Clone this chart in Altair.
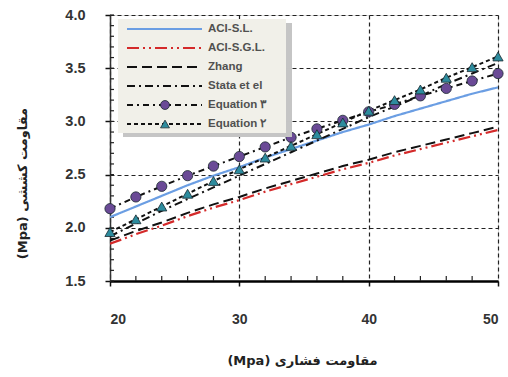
import altair as alt
import pandas as pd

# Compressive strength (MPa) at which every series is evaluated
fc = [20, 22, 24, 26, 28, 30, 32, 34, 36, 38, 40, 42, 44, 46, 48, 50]

# Tensile strength (MPa) for each model
aci_sl = [2.10, 2.20, 2.30, 2.40, 2.49, 2.57, 2.66, 2.74, 2.82, 2.90, 2.97, 3.05, 3.12, 3.19, 3.26, 3.32]
aci_sgl = [1.85, 1.94, 2.02, 2.11, 2.19, 2.26, 2.34, 2.41, 2.48, 2.55, 2.61, 2.68, 2.74, 2.80, 2.86, 2.92]
zhang = [1.88, 1.97, 2.05, 2.14, 2.22, 2.29, 2.37, 2.44, 2.51, 2.58, 2.64, 2.71, 2.77, 2.83, 2.89, 2.95]
stata = [1.92, 2.04, 2.16, 2.27, 2.38, 2.49, 2.60, 2.71, 2.82, 2.93, 3.04, 3.14, 3.24, 3.35, 3.45, 3.55]
eq3 = [2.18, 2.29, 2.39, 2.49, 2.58, 2.67, 2.76, 2.85, 2.93, 3.01, 3.09, 3.16, 3.24, 3.31, 3.38, 3.45]
eq2 = [1.96, 2.08, 2.20, 2.32, 2.44, 2.55, 2.66, 2.77, 2.88, 2.99, 3.10, 3.20, 3.30, 3.41, 3.51, 3.61]

series_names = ["ACI-S.L.", "ACI-S.G.L.", "Zhang", "Stata et el", "Equation ۳", "Equation ۲"]
series_values = [aci_sl, aci_sgl, zhang, stata, eq3, eq2]

x_ticks = [20, 30, 40, 50]
y_ticks = [1.5, 2.0, 2.5, 3.0, 3.5, 4.0]
x_minor = [22, 24, 26, 28, 32, 34, 36, 38, 42, 44, 46, 48]
y_minor = [round(1.5 + 0.1 * i, 1) for i in range(26)]

x_title = "(Mpa) مقاومت فشاری"
y_title = "(Mpa) مقاومت کششی"

# line style per series: colour, width, dash, marker
styles = {
    "ACI-S.L.": dict(color="#6b9ee3", width=2.2, dash=[1, 0], marker=None),
    "ACI-S.G.L.": dict(color="#d42a2a", width=2.2, dash=[12, 4, 2, 4, 2, 4], marker=None),
    "Zhang": dict(color="#111111", width=2.0, dash=[10, 5], marker=None),
    "Stata et el": dict(color="#111111", width=2.0, dash=[8, 4, 2, 4], marker=None),
    "Equation ۳": dict(color="#111111", width=2.0, dash=[6, 4, 2, 4], marker=("circle", "#6a4a96")),
    "Equation ۲": dict(color="#111111", width=2.0, dash=[4, 3], marker=("triangle-up", "#2d8c9e")),
}

rows = []
for name, vals in zip(series_names, series_values):
    for x, y in zip(fc, vals):
        rows.append({"series": name, "fc": x, "ft": y})
df = pd.DataFrame(rows)

W, H = 388, 266
xs = alt.Scale(domain=[20, 50], nice=False, zero=False)
ys = alt.Scale(domain=[1.5, 4.0], nice=False, zero=False)

LABEL_FONT = "Liberation Sans"
TITLE_FONT = "DejaVu Sans"

x_axis = alt.Axis(values=x_ticks, format="d", grid=True, gridDash=[4, 3], gridColor="#222",
                  gridWidth=1.2, tickSize=5, tickColor="#111", tickWidth=1.5,
                  domainColor="#000", domainWidth=2.5, labelPadding=26,
                  labelFont=LABEL_FONT, labelFontSize=14, labelFontWeight="bold",
                  labelColor="#333", title=x_title, titleFont=TITLE_FONT,
                  titleFontSize=13, titleFontWeight="bold", titleColor="#222",
                  titleX=192, titleY=79, titleBaseline="middle")
y_axis = alt.Axis(values=y_ticks, format=".1f", grid=True, gridDash=[4, 3], gridColor="#222",
                  gridWidth=1.2, tickSize=5, tickColor="#111", tickWidth=1.5,
                  domainColor="#333", domainWidth=1.5, labelPadding=20,
                  labelFont=LABEL_FONT, labelFontSize=14.5, labelFontWeight="bold",
                  labelColor="#333", title=y_title, titleFont=TITLE_FONT,
                  titleFontSize=13, titleFontWeight="bold", titleColor="#222",
                  titleAngle=270, titleX=-88, titleY=168, titleBaseline="middle")

layers = []

# axes and grid carried by an invisible layer
layers.append(
    alt.Chart(df).mark_point(opacity=0).encode(
        x=alt.X("fc:Q", scale=xs, axis=x_axis),
        y=alt.Y("ft:Q", scale=ys, axis=y_axis),
    )
)

# minor ticks pointing into the plot
layers.append(
    alt.Chart(pd.DataFrame({"v": y_minor})).mark_rule(color="#222", strokeWidth=1.2).encode(
        y=alt.Y("v:Q", scale=ys), x=alt.value(0), x2=alt.value(4)
    )
)
layers.append(
    alt.Chart(pd.DataFrame({"v": x_minor})).mark_rule(color="#222", strokeWidth=1.2).encode(
        x=alt.X("v:Q", scale=xs), y=alt.value(H), y2=alt.value(H - 5)
    )
)

for name in series_names:
    st = styles[name]
    sub = df[df.series == name]
    layers.append(
        alt.Chart(sub).mark_line(color=st["color"], strokeWidth=st["width"],
                                 strokeDash=st["dash"], clip=True).encode(
            x=alt.X("fc:Q", scale=xs), y=alt.Y("ft:Q", scale=ys)
        )
    )
for name in series_names:
    st = styles[name]
    if st["marker"]:
        shape, fill = st["marker"]
        sub = df[df.series == name]
        layers.append(
            alt.Chart(sub).mark_point(shape=shape, filled=True, fill=fill, stroke="#1a2a30",
                                      strokeWidth=0.8, size=105, opacity=1).encode(
                x=alt.X("fc:Q", scale=xs), y=alt.Y("ft:Q", scale=ys)
            )
        )

# legend box with a soft shadow
leg = pd.DataFrame({"series": series_names})
layers.append(
    alt.Chart(leg).mark_rect(color="#c4c4c4", opacity=0.6).encode(
        x=alt.value(13), x2=alt.value(182), y=alt.value(8), y2=alt.value(122)
    )
)
layers.append(
    alt.Chart(leg).mark_rect(color="#f1f0e9").encode(
        x=alt.value(8), x2=alt.value(176), y=alt.value(4), y2=alt.value(118)
    )
)
row_y = [14, 33, 52, 71, 90, 109]
for i, name in enumerate(series_names):
    st = styles[name]
    one = leg[leg.series == name]
    layers.append(
        alt.Chart(one).mark_rule(color=st["color"], strokeWidth=st["width"],
                                 strokeDash=st["dash"]).encode(
            x=alt.value(17), x2=alt.value(92), y=alt.value(row_y[i])
        )
    )
    if st["marker"]:
        shape, fill = st["marker"]
        layers.append(
            alt.Chart(one).mark_point(shape=shape, filled=True, fill=fill, stroke="#1a2a30",
                                      strokeWidth=0.8, size=80, opacity=1).encode(
                x=alt.value(55), y=alt.value(row_y[i])
            )
        )
    layers.append(
        alt.Chart(one).mark_text(align="left", baseline="middle", font=LABEL_FONT,
                                 fontSize=11.5, fontWeight="bold", color="#505050").encode(
            x=alt.value(98), y=alt.value(row_y[i]), text="series:N"
        )
    )

chart = alt.layer(*layers).properties(
    width=W, height=H,
    padding={"left": 110, "top": 15, "right": 10, "bottom": 96},
    autosize=alt.AutoSizeParams(type="none"),
).configure_view(stroke="#888", strokeWidth=1).configure(background="white")

chart.save("out.html", embed_options={"renderer": "svg", "actions": False})
